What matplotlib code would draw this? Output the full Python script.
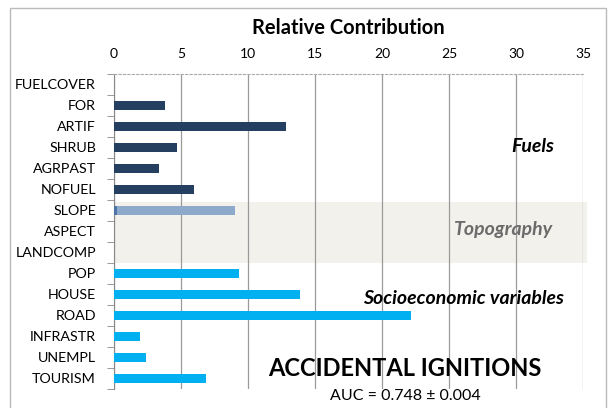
import matplotlib
matplotlib.use("Agg")
import matplotlib.pyplot as plt
from matplotlib.patches import Rectangle
import numpy as np

plt.rcParams['font.family'] = ['Lato', 'DejaVu Sans']

categories = ["FUELCOVER", "FOR", "ARTIF", "SHRUB", "AGRPAST", "NOFUEL",
              "SLOPE", "ASPECT", "LANDCOMP",
              "POP", "HOUSE", "ROAD", "INFRASTR", "UNEMPL", "TOURISM"]
fuels = [0.0, 3.8, 12.8, 4.7, 3.35, 6.0, 0, 0, 0, 0, 0, 0, 0, 0, 0]
topo_base = [0, 0, 0, 0, 0, 0, 0.2, 0, 0, 0, 0, 0, 0, 0, 0]
topo = [0, 0, 0, 0, 0, 0, 8.8, 0.0, 0.0, 0, 0, 0, 0, 0, 0]
socio = [0, 0, 0, 0, 0, 0, 0, 0, 0, 9.35, 13.9, 22.2, 1.97, 2.4, 6.85]
xticks = [0, 5, 10, 15, 20, 25, 30, 35]

fig = plt.figure(figsize=(6.13, 4.08), dpi=100)
ax = fig.add_axes([0.186, 0.047, 0.765, 0.772])

y = np.arange(len(categories))
h = 0.45
ax.barh(y, fuels, height=h, color="#243f60", zorder=3)
ax.barh(y, topo_base, height=h, color="#4f74a8", zorder=3)
ax.barh(y, topo, left=topo_base, height=h, color="#8eaacb", zorder=3)
ax.barh(y, socio, height=h, color="#00b0f0", zorder=3)

# topography band
ax.add_patch(Rectangle((0, 5.6), 35.3, 2.9, facecolor="#f3f1ec", edgecolor="none",
                       zorder=1, clip_on=False))

ax.set_xlim(0, 35)
ax.set_ylim(len(categories) - 0.5, -0.5)
ax.xaxis.tick_top()
ax.set_xticks(xticks)
ax.set_xticklabels([str(t) for t in xticks], fontsize=10)
ax.tick_params(axis='x', length=0, pad=10)
ax.set_yticks(y)
ax.set_yticklabels(categories, fontsize=10.3)
ax.tick_params(axis='y', which='major', length=0, pad=13)
ax.set_yticks(np.arange(-0.5, len(categories), 1.0), minor=True)
ax.tick_params(axis='y', which='minor', length=5, color="#888888", direction='out')
ax.grid(axis='x', color="#9a9a9a", linewidth=0.9, zorder=2)
for s in ['right', 'bottom']:
    ax.spines[s].set_visible(False)
ax.spines['left'].set_color("#888888")
ax.spines['top'].set_color("#aaaaaa")
ax.spines['top'].set_linestyle((0, (2, 2)))
ax.spines['top'].set_linewidth(0.8)

ax.set_xlabel("Relative Contribution", fontsize=14.5, fontweight='bold', labelpad=10)
ax.xaxis.set_label_position('top')


def fig_text(xp, yp, s, **kw):
    fig.text(xp / 613, 1 - yp / 408, s, ha='center', va='center', **kw)


fig_text(533, 147, "Fuels", fontsize=14, fontweight='bold', fontstyle='italic')
fig_text(504, 229, "Topography", fontsize=14, fontweight='bold', fontstyle='italic', color="#6b6b6b")
fig_text(463, 299, "Socioeconomic variables", fontsize=14, fontweight='bold', fontstyle='italic')
fig_text(405, 368, "ACCIDENTAL IGNITIONS", fontsize=17, fontweight='bold')
fig_text(405, 396, "AUC = 0.748 ± 0.004", fontsize=11.5)

fig.patches.append(Rectangle((10 / 613, -0.05), 596 / 613, 1 - 8 / 408 + 0.05,
                             transform=fig.transFigure, fill=False,
                             edgecolor="#bbbbbb", linewidth=1.0))

fig.savefig("out.png", dpi=100)
